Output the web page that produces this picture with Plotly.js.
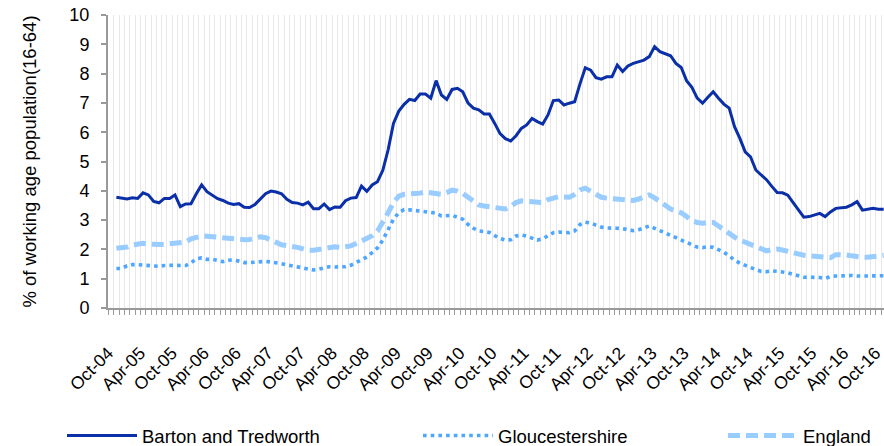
<!DOCTYPE html>
<html>
<head>
<meta charset="utf-8">
<script src="https://cdn.plot.ly/plotly-3.0.1.min.js"></script>
<style>html,body{margin:0;padding:0;background:#fff;}#chart{width:884px;height:446px;}</style>
</head>
<body>
<div id="chart"></div>
<script>
// Monthly series, Oct-04 .. Oct-16 (145 months)
const tickLabels = ['Oct-04','Apr-05','Oct-05','Apr-06','Oct-06','Apr-07','Oct-07','Apr-08','Oct-08','Apr-09','Oct-09','Apr-10','Oct-10','Apr-11','Oct-11','Apr-12','Oct-12','Apr-13','Oct-13','Apr-14','Oct-14','Apr-15','Oct-15','Apr-16','Oct-16'];

const barton = [3.78,3.74,3.72,3.76,3.74,3.93,3.86,3.64,3.59,3.74,3.74,3.86,3.46,3.55,3.56,3.9,4.2,3.97,3.85,3.73,
3.67,3.58,3.53,3.56,3.44,3.43,3.53,3.73,3.9,3.99,3.96,3.9,3.71,3.6,3.58,3.52,3.61,3.39,3.39,3.55,
3.36,3.45,3.44,3.66,3.75,3.77,4.16,3.98,4.2,4.31,4.7,5.4,6.3,6.72,6.95,7.12,7.08,7.3,7.3,7.16,
7.76,7.27,7.12,7.46,7.5,7.38,6.99,6.82,6.76,6.62,6.62,6.3,5.95,5.78,5.7,5.88,6.13,6.25,6.47,6.36,
6.28,6.59,7.08,7.1,6.93,6.99,7.04,7.65,8.2,8.12,7.86,7.81,7.89,7.89,8.29,8.07,8.26,8.35,8.41,8.46,
8.58,8.92,8.75,8.67,8.61,8.35,8.21,7.76,7.53,7.16,6.99,7.19,7.38,7.16,6.96,6.82,6.19,5.79,5.33,5.16,
4.71,4.54,4.38,4.15,3.94,3.93,3.85,3.6,3.35,3.1,3.12,3.18,3.23,3.12,3.28,3.4,3.43,3.44,3.52,3.63,
3.34,3.36,3.4,3.37,3.37];

const gloucestershire = [1.35,1.35,1.44,1.48,1.48,1.46,1.43,1.41,1.42,1.45,1.47,1.46,1.45,1.45,1.54,1.68,1.71,1.66,1.66,1.63,
1.58,1.63,1.64,1.6,1.55,1.55,1.57,1.6,1.59,1.57,1.55,1.51,1.47,1.44,1.43,1.37,1.33,1.3,1.33,1.37,
1.41,1.4,1.39,1.41,1.46,1.55,1.66,1.74,1.89,2.05,2.32,2.68,3.03,3.25,3.36,3.35,3.33,3.32,3.31,3.28,
3.24,3.14,3.15,3.16,3.1,3.03,2.85,2.72,2.63,2.59,2.58,2.47,2.37,2.32,2.33,2.46,2.49,2.45,2.38,2.32,
2.36,2.48,2.57,2.59,2.58,2.57,2.63,2.85,2.93,2.9,2.83,2.76,2.73,2.71,2.72,2.71,2.68,2.64,2.67,2.74,
2.8,2.72,2.64,2.55,2.47,2.39,2.32,2.25,2.15,2.08,2.06,2.09,2.07,2.0,1.9,1.78,1.63,1.53,1.45,1.38,
1.31,1.25,1.24,1.27,1.26,1.23,1.2,1.14,1.08,1.05,1.05,1.05,1.04,1.01,1.07,1.09,1.1,1.12,1.11,1.09,
1.09,1.1,1.12,1.11,1.1];

const england = [2.04,2.04,2.08,2.15,2.2,2.21,2.18,2.17,2.17,2.17,2.19,2.21,2.22,2.25,2.36,2.43,2.46,2.45,2.43,2.41,
2.41,2.41,2.39,2.36,2.33,2.34,2.4,2.43,2.4,2.34,2.24,2.16,2.14,2.12,2.07,2.02,1.97,1.97,2.0,2.06,
2.08,2.09,2.07,2.08,2.12,2.2,2.3,2.36,2.47,2.62,2.9,3.25,3.6,3.82,3.88,3.89,3.89,3.92,3.96,3.93,
3.91,3.88,3.94,4.02,3.99,3.91,3.78,3.64,3.52,3.48,3.46,3.44,3.41,3.38,3.46,3.6,3.66,3.64,3.62,3.6,
3.6,3.7,3.77,3.8,3.79,3.78,3.88,4.03,4.09,3.98,3.86,3.78,3.75,3.74,3.73,3.71,3.69,3.67,3.72,3.8,
3.86,3.76,3.62,3.48,3.38,3.31,3.25,3.12,2.98,2.92,2.89,2.92,2.92,2.8,2.66,2.55,2.42,2.32,2.24,2.16,
2.09,2.02,1.95,1.99,2.01,1.98,1.93,1.87,1.83,1.8,1.78,1.77,1.76,1.73,1.72,1.82,1.83,1.81,1.78,1.74,
1.73,1.73,1.74,1.77,1.8];

const seriesNames = ['Barton and Tredworth','Gloucestershire','England'];

const xIdx = barton.map((_, i) => i);
const labelShift = 1.55; // rotated labels sit slightly left of their month, as in the original
const tickVals = tickLabels.map((_, k) => k * 6 - labelShift);
const FONT = 'Arial, "Liberation Sans", sans-serif';

const traces = [
  {x: xIdx, y: barton, name: seriesNames[0], type: 'scatter', mode: 'lines',
   line: {color: '#0a2fa8', width: 3}, legend: 'legend'},
  {x: xIdx, y: gloucestershire, name: seriesNames[1], type: 'scatter', mode: 'lines',
   line: {color: '#4da6ff', width: 3.6, dash: '3.6px,4.1px'}, legend: 'legend2'},
  {x: xIdx, y: england, name: seriesNames[2], type: 'scatter', mode: 'lines',
   line: {color: '#99ccff', width: 5, dash: '12px,6px'}, legend: 'legend3'}
];

const legendBase = {orientation: 'h', xref: 'container', yref: 'container',
  yanchor: 'middle', y: 1 - 436 / 446, xanchor: 'left', itemwidth: 70,
  font: {family: FONT, size: 18.5, color: '#000'}, bgcolor: 'rgba(0,0,0,0)'};

const layout = {
  width: 884, height: 446,
  margin: {l: 108, r: 0, t: 15, b: 138, autoexpand: false},
  paper_bgcolor: '#fff', plot_bgcolor: '#fff',
  font: {family: FONT, size: 18, color: '#000'},
  showlegend: true,
  legend: Object.assign({}, legendBase, {x: 62 / 884}),
  legend2: Object.assign({}, legendBase, {x: 418 / 884}),
  legend3: Object.assign({}, legendBase, {x: 723 / 884}),
  xaxis: {
    range: [-1.57, 144.05], tickvals: tickVals, ticktext: tickLabels, tickangle: -45,
    ticks: '', showgrid: false, zeroline: false,
    showline: true, linecolor: '#999', linewidth: 2,
    ticklabelstandoff: 26, ticklabeloverflow: 'allow',
    tickfont: {family: FONT, size: 17.5, color: '#000'},
    minor: {tick0: 0.5, dtick: 1, showgrid: true, gridcolor: '#e8e8e8', gridwidth: 1,
            ticks: 'outside', ticklen: 5, tickcolor: '#999', tickwidth: 1}
  },
  yaxis: {
    range: [0, 10], dtick: 1, tick0: 0, showgrid: false, zeroline: false,
    showline: true, linecolor: '#999', linewidth: 2,
    ticks: 'outside', ticklen: 5, tickcolor: '#999', tickwidth: 2,
    ticklabelstandoff: 8,
    tickfont: {family: FONT, size: 18, color: '#000'},
    title: {text: '% of working age population(16-64)', font: {family: FONT, size: 18.5, color: '#000'}, standoff: 28}
  }
};

Plotly.newPlot('chart', traces, layout, {displayModeBar: false, staticPlot: true});
</script>
</body>
</html>
